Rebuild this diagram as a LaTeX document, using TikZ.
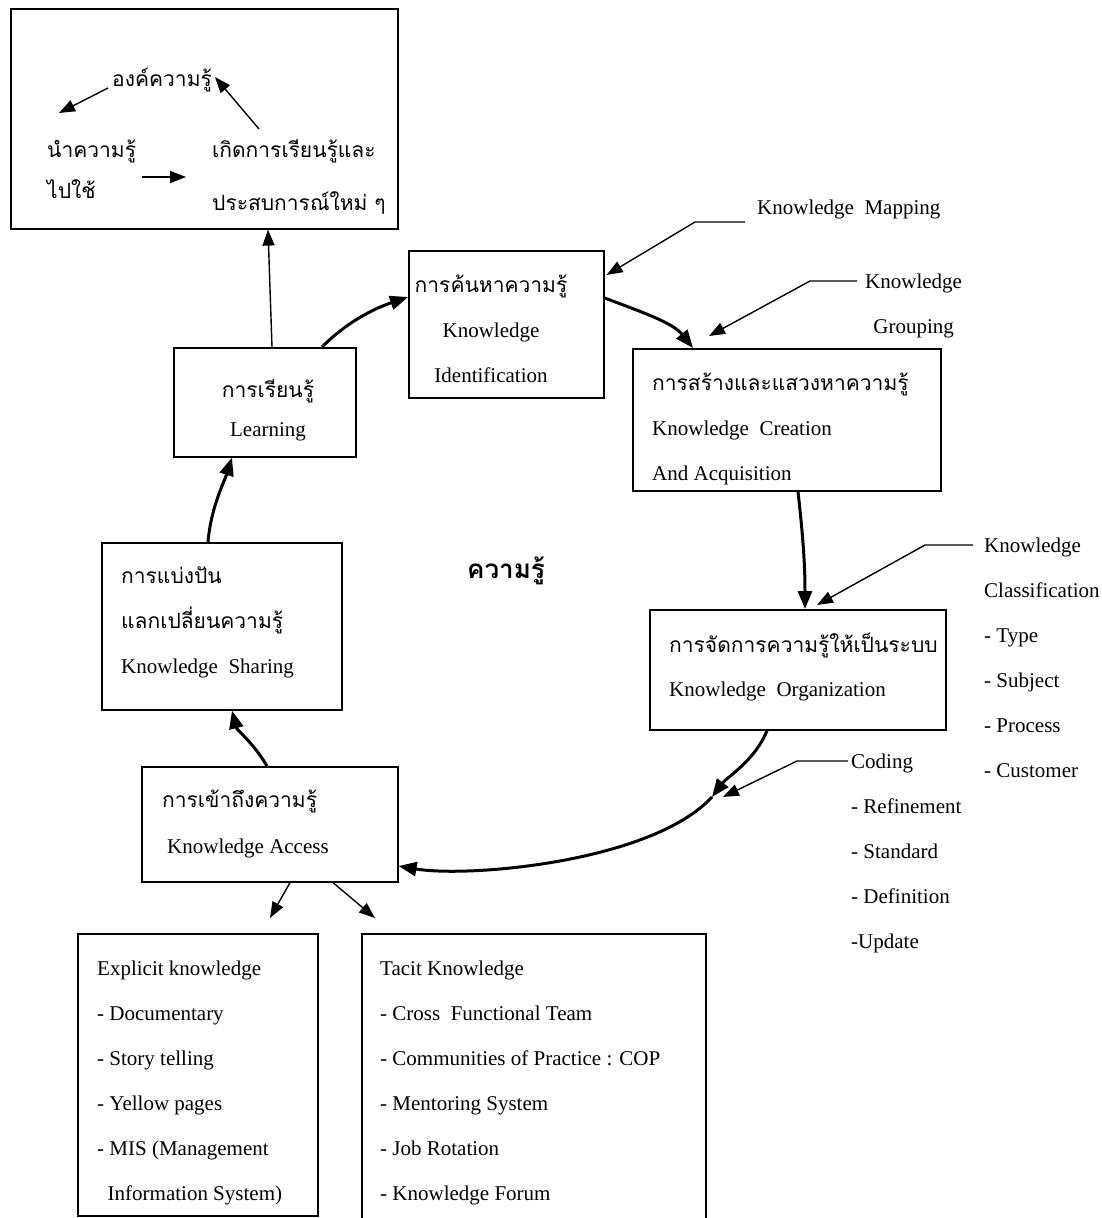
\documentclass[tikz,border=0pt]{standalone}
\usepackage{fontspec}
\setmainfont{Liberation Serif}
\newfontfamily\thaifont[Script=Thai]{Loma}
\usetikzlibrary{arrows.meta, calc}

\tikzset{
  box/.style={draw, line width=1.6pt, anchor=north west, inner sep=0pt},
  flow/.style={-{Triangle[length=18pt,width=14pt]}, line width=3pt},
  link/.style={-{Triangle[length=16pt,width=12pt]}, line width=1.4pt},
  txt/.style={font=\fontsize{21}{45}\selectfont, anchor=base west, inner sep=0pt, align=left},
  thai/.style={font=\fontsize{21}{45}\selectfont\thaifont, anchor=base west, inner sep=0pt, align=left}
}

\begin{document}
\begin{tikzpicture}[x=1pt, y=-1pt]
    \useasboundingbox (0,0) rectangle (1102,1218);
    % Boxes
    \node[box, minimum width=387, minimum height=220] (know) at (10,8) {};
    \node[box, minimum width=182, minimum height=109] (learn) at (173,347) {};
    \node[box, minimum width=195, minimum height=147] (ident) at (408,250) {};
    \node[box, minimum width=308, minimum height=142] (create) at (632,348) {};
    \node[box, minimum width=296, minimum height=120] (organ) at (649,609) {};
    \node[box, minimum width=240, minimum height=167] (share) at (101,542) {};
    \node[box, minimum width=256, minimum height=115] (access) at (141,766) {};
    \node[box, minimum width=240, minimum height=282] (expl) at (77,933) {};
    \node[box, minimum width=344, minimum height=310] (tacit) at (361,933) {};

    % Cycle inside the top box
    \node[thai] (body) at (112,86) {องค์ความรู้};
    \node[thai] (apply) at (47,157) {นำความรู้};
    \node[thai] (use) at (47,198) {ไปใช้};
    \node[thai] (newexp) at (212,157) {เกิดการเรียนรู้และ};
    \node[thai] (newexp2) at (212,210) {ประสบการณ์ใหม่ ๆ};
    \draw[link] ([xshift=-4,yshift=-2]body.base west) -- ([xshift=12,yshift=44]apply.base west);
    \draw[link] ([xshift=95,yshift=-20]apply.base west) -- ([xshift=-26,yshift=-20]newexp.base west);
    \draw[link] ([xshift=47,yshift=28]newexp.base west) -- ([xshift=103,yshift=9]body.base west);

    % Box texts (multi-line nodes sit on their last baseline)
    \node[thai, anchor=base] at (268,397) {การเรียนรู้};
    \node[txt, anchor=base] at (268,436) {Learning};
    \node[thai, anchor=base] at (491,292) {การค้นหาความรู้};
    \node[txt, anchor=base] at (491,337) {Knowledge};
    \node[txt, anchor=base] at (491,382) {Identification};
    \node[thai] at (652,390) {การสร้างและแสวงหาความรู้};
    \node[txt] at (652,480) {Knowledge\ \ Creation\\And Acquisition};
    \node[thai] at (669,652) {การจัดการความรู้ให้เป็นระบบ};
    \node[txt] at (669,696) {Knowledge\ \ Organization};
    \node[thai] at (121,628) {การแบ่งปัน\\แลกเปลี่ยนความรู้};
    \node[txt] at (121,673) {Knowledge\ \ Sharing};
    \node[thai] at (162,807) {การเข้าถึงความรู้};
    \node[txt] at (167,853) {Knowledge Access};
    \node[font=\fontsize{26}{30}\selectfont\thaifont\bfseries, anchor=base] at (506,578) {ความรู้};

    % Side labels
    \node[txt] (map) at (757,214) {Knowledge\ \ Mapping};
    \node[txt, align=center] (group) at (865,333) {Knowledge\\Grouping};
    \node[txt] (classi) at (984,777) {Knowledge\\Classification\\- Type\\- Subject\\- Process\\- Customer};
    \node[txt] (coding) at (851,948) {Coding\\- Refinement\\- Standard\\- Definition\\-Update};

    % Lists
    \node[txt] at (97,1200) {Explicit knowledge\\- Documentary\\- Story telling\\- Yellow pages\\- MIS (Management\\\ \ Information System)};
    \node[txt] at (380,1200) {Tacit Knowledge\\- Cross\ \ Functional Team\\- Communities of Practice : COP\\- Mentoring System\\- Job Rotation\\- Knowledge Forum};

    % Main cycle
    \coordinate (mid) at (712,797);
    \draw[flow] ([xshift=149]learn.north west) .. controls +(25,-25) and +(-35,12) .. ([yshift=-47]ident.north west);
    \draw[flow] ([yshift=-48]ident.north east) .. controls +(40,15) and +(-20,-25) .. ([xshift=61]create.north west);
    \draw[flow] ([xshift=166]create.south west) .. controls +(5,45) and +(0,-45) .. ([xshift=156]organ.north west);
    \draw[flow] ([xshift=118]organ.south west) .. controls +(-12,30) and +(15,-20) .. (mid);
    \draw[flow] (mid) .. controls +(-60,65) and +(70,12) .. ([yshift=-100]access.north east);
    \draw[flow] ([xshift=126]access.north west) .. controls +(-15,-25) and +(5,20) .. ([xshift=131]share.south west);
    \draw[flow] ([xshift=107]share.north west) .. controls +(3,-35) and +(-8,25) .. ([xshift=59]learn.south west);

    % Thin arrows
    \draw[link] ([xshift=99]learn.north west) -- ([xshift=258]know.south west);
    \draw[link] ([xshift=149]access.south west) -- ([xshift=193,yshift=15]expl.north west);
    \draw[link] ([xshift=192]access.south west) -- ([xshift=14,yshift=15]tacit.north west);

    % Label pointers
    \draw[link] ([xshift=-12,yshift=-8]map.base west) -- ++(-50,0) -- ([xshift=2,yshift=-25]ident.north east);
    \draw[link] ([xshift=-8,yshift=52]group.base west) -- ++(-47,0) -- ([xshift=77,yshift=12]create.north west);
    \draw[link] ([xshift=-11,yshift=232]classi.base west) -- ++(-48,0) -- ([xshift=168,yshift=4]organ.north west);
    \draw[link] ([xshift=-3,yshift=187]coding.base west) -- ++(-51,0) -- ([xshift=11]mid);
\end{tikzpicture}
\end{document}
